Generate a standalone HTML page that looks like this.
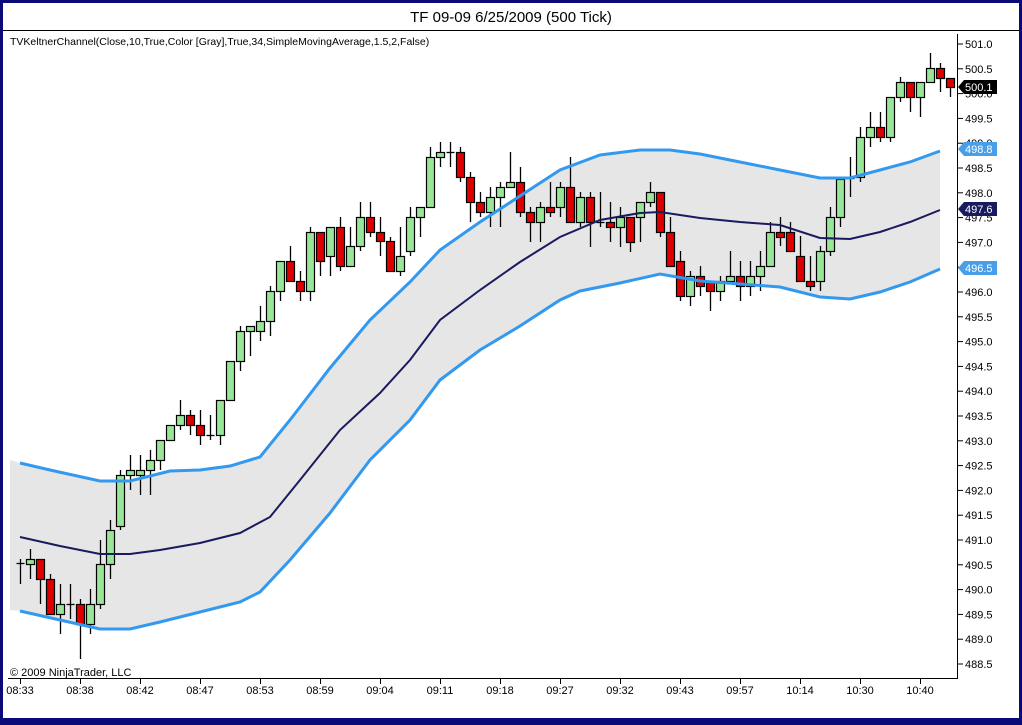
<!DOCTYPE html>
<html><head><meta charset="utf-8"><style>
html,body{margin:0;padding:0;background:#0a0a78;}
body{width:1022px;height:725px;overflow:hidden;position:relative;font-family:"Liberation Sans",Arial,sans-serif;}
</style></head><body>
<svg id="s" width="1022" height="725" viewBox="0 0 1022 725" xmlns="http://www.w3.org/2000/svg" style="position:absolute;left:0;top:0">
<rect x="0" y="0" width="1022" height="725" fill="#0a0a78"/>
<rect x="3" y="3" width="1016" height="715" fill="#fff"/>
<line x1="3" y1="30.5" x2="1019" y2="30.5" stroke="#000" stroke-width="1"/>
<text x="511" y="22" font-size="15" text-anchor="middle" fill="#000" font-family="Liberation Sans, sans-serif">TF 09-09  6/25/2009 (500 Tick)</text>
<polygon fill="#e6e6e6" points="10,460 20,463 50,470 100,481 130,481 170,471 200,470 230,466 260,457 290,420 330,368 370,320 410,282 440,250 480,222 520,196 560,170 600,155 640,150 670,150 700,154 740,162 780,170 820,178 850,178 880,170 910,162 940,151 940,269 910,282 880,292 850,299 820,297 780,287 740,284 700,281 660,274 620,283 580,291 560,300 520,326 480,350 440,380 410,420 370,460 330,513 290,560 260,592 240,602 200,612 160,622 130,629 100,629 60,620 20,611 10,610"/>
<g id="c"></g>
<polyline fill="none" stroke="#3399ee" stroke-width="3" points="20,463 50,470 100,481 130,481 170,471 200,470 230,466 260,457 290,420 330,368 370,320 410,282 440,250 480,222 520,196 560,170 600,155 640,150 670,150 700,154 740,162 780,170 820,178 850,178 880,170 910,162 940,151"/>
<polyline fill="none" stroke="#3399ee" stroke-width="3" points="20,611 60,620 100,629 130,629 160,622 200,612 240,602 260,592 290,560 330,513 370,460 410,420 440,380 480,350 520,326 560,300 580,291 620,283 660,274 700,281 740,284 780,287 820,297 850,299 880,292 910,282 940,269"/>
<polyline fill="none" stroke="#1a1a5e" stroke-width="2" points="20,537 60,546 100,554 130,554 160,550 200,543 240,533 270,517 300,480 340,430 380,393 410,360 440,320 480,290 520,262 560,237 600,220 640,213 660,212 700,218 740,222 780,225 820,238 850,239 880,232 910,222 940,210"/>
<line x1="957.5" y1="34" x2="957.5" y2="679" stroke="#000"/>
<line x1="8" y1="678.5" x2="958" y2="678.5" stroke="#000"/>
<g id="ax" font-size="11" fill="#000"></g>
<text x="10" y="45" font-size="10.5" fill="#000">TVKeltnerChannel(Close,10,True,Color [Gray],True,34,SimpleMovingAverage,1.5,2,False)</text>
<text x="10" y="676" font-size="11" fill="#000">© 2009 NinjaTrader, LLC</text>
<g id="bd" font-size="11"></g>
</svg>
<script>
var ns="http://www.w3.org/2000/svg";
function el(p,t,a,txt){var e=document.createElementNS(ns,t);for(var k in a)e.setAttribute(k,a[k]);if(txt)e.textContent=txt;p.appendChild(e);return e;}
var D=[
['d',563,563,559,584],['g',559,564,549,579],['r',559,579,559,604],['r',579,614,574,614],['g',604,614,584,634],['d',604,604,584,619],['r',604,624,599,659],['g',604,624,589,634],['g',564,604,540,609],['g',530,564,520,579],
['g',475,526,470,530],['g',470,475,455,490],['g',470,475,455,495],['g',460,470,450,495],['g',440,460,440,470],['g',425,440,425,440],['g',415,425,400,430],['r',415,425,410,435],['r',425,435,410,445],['d',435,435,415,440],
['g',400,435,400,445],['g',361,400,361,400],['g',331,361,326,371],['g',326,331,326,356],['g',321,331,306,341],['g',291,321,286,336],['g',261,291,261,301],['r',261,281,246,281],['r',281,291,271,301],['g',232,291,227,301],
['r',232,261,232,276],['g',227,256,227,276],['r',227,266,217,271],['g',246,266,227,266],['g',217,246,202,251],['r',217,232,202,237],['r',232,241,217,256],['r',241,271,237,271],['g',256,271,227,276],['g',217,251,207,256],
['g',207,217,207,237],['g',157,207,147,207],['g',152,157,142,167],['d',152,152,142,167],['r',152,177,147,182],['r',177,202,172,222],['r',202,212,192,217],['g',197,212,187,227],['g',187,197,182,227],['g',182,187,152,187],
['r',182,212,167,217],['r',212,222,207,242],['g',207,222,202,242],['r',207,212,182,217],['g',187,207,182,217],['r',187,222,157,222],['g',197,222,192,227],['r',197,222,192,247],['d',222,222,192,227],['r',222,227,202,242],
['g',217,227,207,247],['r',217,242,217,252],['g',202,217,202,242],['g',192,202,182,207],['r',192,232,192,237],['r',232,266,217,266],['r',261,296,251,301],['g',276,296,271,306],['r',276,286,266,296],['r',281,291,281,311],
['g',281,291,276,301],['g',276,281,251,281],['r',276,286,261,301],['g',276,286,261,296],['g',266,276,251,291],['g',232,266,222,266],['r',232,237,217,246],['r',232,251,222,251],['r',256,281,236,281],['r',281,286,256,291],
['g',251,281,246,291],['g',217,251,207,256],['g',179,217,179,227],['d',178,178,157,197],['g',137,177,127,182],['g',127,137,112,147],['r',127,137,112,142],['g',97,137,97,142],['g',82,97,77,102],['r',82,97,82,112],
['g',82,97,82,117],['g',68,82,53,82],['r',68,78,63,92],['r',78,87,78,97]];
var c=document.getElementById('c');
D.forEach(function(d,i){var x=20+10*i;
el(c,'line',{x1:x+.5,y1:d[3],x2:x+.5,y2:d[4],stroke:'#000','stroke-width':1.3});
if(d[0]=='d'){el(c,'line',{x1:x-3.5,y1:d[1]+.5,x2:x+4.5,y2:d[1]+.5,stroke:'#000','stroke-width':1.3});}
else{var h=Math.max(d[2]-d[1],3);el(c,'rect',{x:x-3.5,y:d[1]+.5,width:8,height:h,fill:d[0]=='g'?'#99e699':'#dd0000',stroke:'#000','stroke-width':1.2});}
});
var ax=document.getElementById('ax');
for(var k=0;k<=25;k++){var p=501-k*0.5;var y=44+k*24.8;
el(ax,'line',{x1:957,y1:y,x2:963,y2:y,stroke:'#000'});
el(ax,'text',{x:965,y:y+4},p.toFixed(1));}
var T=['08:33','08:38','08:42','08:47','08:53','08:59','09:04','09:11','09:18','09:27','09:32','09:43','09:57','10:14','10:30','10:40'];
T.forEach(function(t,i){var x=20+60*i;el(ax,'line',{x1:x+.5,y1:678,x2:x+.5,y2:684,stroke:'#000'});el(ax,'text',{x:x,y:694,'text-anchor':'middle'},t);});
var bd=document.getElementById('bd');
[[87,'500.1','#000'],[149,'498.8','#4a9ee8'],[209,'497.6','#1a1a5e'],[268,'496.5','#4a9ee8']].forEach(function(b){var y=b[0];
el(bd,'polygon',{points:(958)+','+y+' '+(964)+','+(y-7)+' '+(997)+','+(y-7)+' '+(997)+','+(y+7)+' '+(964)+','+(y+7),fill:b[2]});
el(bd,'text',{x:965,y:y+4,fill:'#fff'},b[1]);});
</script>
</body></html>
